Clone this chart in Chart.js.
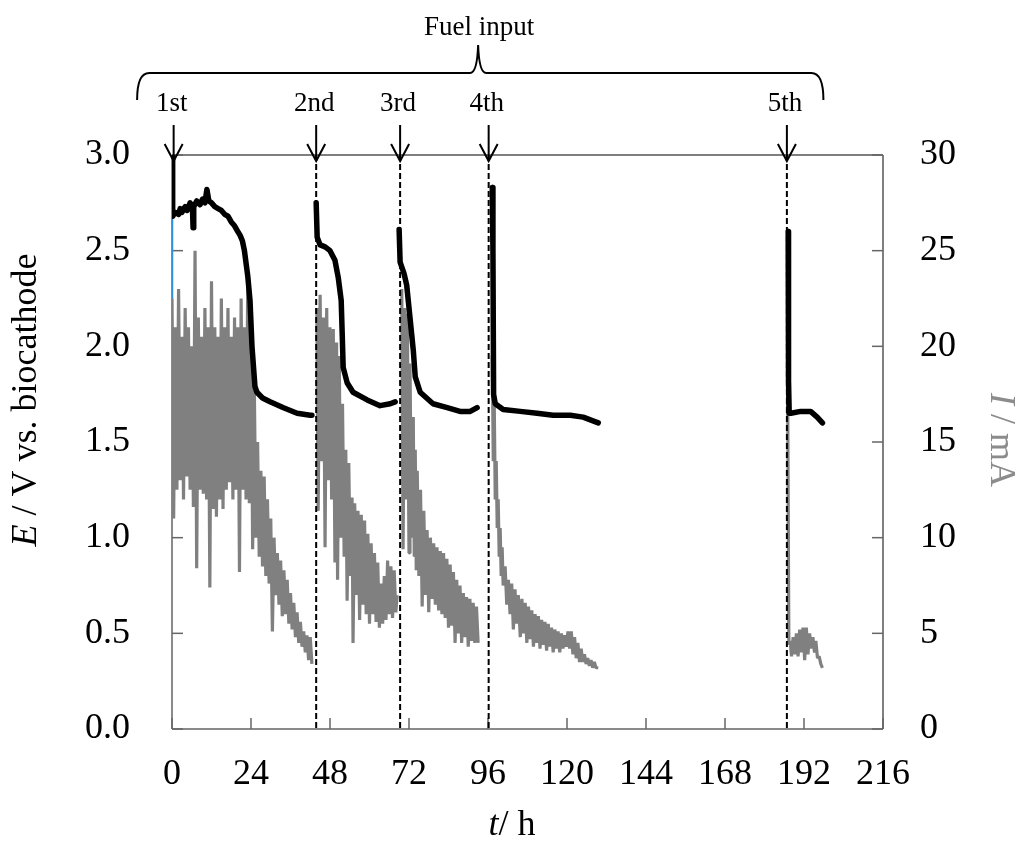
<!DOCTYPE html>
<html>
<head>
<meta charset="utf-8">
<script src="https://cdn.jsdelivr.net/npm/chart.js@4.4.1/dist/chart.umd.min.js"></script>
<style>
  html, body { margin: 0; padding: 0; background: #fff; }
  #wrap { width: 1023px; height: 860px; }
</style>
</head>
<body>
<div id="wrap"><canvas id="chart" width="1023" height="860"></canvas></div>
<script>
// fuel inputs (h) and their labels
const fuelTimes = [0.5, 43.8, 69.3, 96.2, 186.8];
const fuelLabels = ['1st', '2nd', '3rd', '4th', '5th'];

// cell voltage E (V), one array per run: [t (h), E]
const potential1 = [[0,3.0],[0.2,2.68],[1,2.70],[2,2.69],[2.5,2.72],[3,2.70],[4,2.73],[4.6,2.71],[5.5,2.75],[6.2,2.73],[6.4,2.62],[6.6,2.73],[7.5,2.76],[8.5,2.74],[9.3,2.77],[10,2.75],[10.6,2.82],[11.2,2.76],[12,2.75],[13,2.73],[14,2.72],[15,2.71],[16,2.69],[17,2.68],[18,2.65],[19,2.63],[20,2.60],[20.7,2.58],[21.4,2.55],[22,2.50],[23,2.37],[23.7,2.24],[24.3,2.0],[25.2,1.79],[25.8,1.76],[27.5,1.73],[29.8,1.71],[33.7,1.68],[38,1.65],[42,1.64],[42.5,1.64]];
const potential2 = [[43.8,2.75],[44.1,2.57],[45,2.53],[46.5,2.52],[48,2.50],[49.5,2.45],[50.5,2.36],[51.4,2.24],[51.7,2.07],[52,1.89],[53.2,1.81],[55,1.76],[59.3,1.72],[63.2,1.69],[66.3,1.70],[67.8,1.71]];
const potential3 = [[69.0,2.61],[69.3,2.44],[70.5,2.38],[71.3,2.32],[72.3,2.15],[73.3,1.98],[73.9,1.84],[75.4,1.76],[79.3,1.70],[83.6,1.68],[87.5,1.66],[90.6,1.66],[92.7,1.68]];
const potential4 = [[97.3,2.83],[97.5,2.50],[97.7,1.75],[98.2,1.70],[100.6,1.67],[105.8,1.66],[110.9,1.65],[115.8,1.64],[121,1.64],[124.9,1.63],[129.5,1.60]];
const potential5 = [[187.2,2.60],[187.3,1.82],[187.5,1.65],[188,1.65],[191,1.66],[194,1.66],[196,1.63],[197.6,1.60]];

// current I (mA), traced as the oscillating signal: [t (h), I]
const current1 = [[0,22.5],[0.5,11],[1,21],[1.5,12.5],[2,23],[2.5,13],[3,20.5],[3.5,12],[4,22],[4.5,13.2],[5,21],[5.5,12.5],[6,20],[6.5,11.6],[7,25],[7.5,8.4],[8,21.5],[8.5,12.5],[9,20.5],[9.5,12.3],[10,22],[10.5,12],[11,21],[11.5,7.4],[12,23.4],[12.5,11.5],[13,21],[13.5,11.1],[14,20.5],[14.5,12],[15,22.5],[15.5,11.5],[16,21],[16.5,12.5],[17,22],[17.5,12.9],[18,20.5],[18.5,12],[19,21.5],[19.5,12.5],[20,21],[20.5,8.2],[21,22.5],[21.5,12.5],[22,21],[22.5,12],[23,23.1],[23.5,11.8],[24,21.5],[24.5,9.4],[25,18],[25.5,10],[26,15],[26.5,9],[27,13.5],[27.5,8.5],[28,13.2],[28.5,8],[29,12],[29.5,7.6],[30,11],[30.5,5.1],[31,10],[31.5,7],[32,9.2],[32.5,6.5],[33,8.8],[33.5,5.9],[34,8.3],[34.5,6],[35,7.8],[35.5,5.5],[36,7.1],[36.5,5.2],[37,6.6],[37.5,4.8],[38,6.1],[38.5,4.5],[39,5.6],[39.5,4.3],[40,5.1],[40.5,4],[41,4.9],[41.5,3.6],[42,4.8],[42.5,3.4]];
const current2 = [[44,22],[44.4,11.4],[45,22.7],[45.5,14],[46,21.5],[46.5,9.5],[47,22],[47.5,13],[48,21],[48.5,12],[49,20.9],[49.5,8.7],[50,20.2],[50.3,7.8],[50.8,19.5],[51.3,10],[51.8,17],[52.3,9],[52.8,14.6],[53.2,6.7],[53.7,13.9],[54.2,8],[54.7,12.1],[55,4.5],[55.5,11.8],[56,7],[56.5,11.4],[57,5.7],[57.5,11.2],[58,6.5],[58.5,10.9],[59,6],[59.5,10.2],[60,5.5],[60.5,9.7],[61,6],[61.5,9.2],[62,5.6],[62.5,8.7],[63,5.3],[63.5,7.6],[64,5.5],[64.5,8],[65,5.7],[65.5,8.8],[66,6],[66.5,8.5],[67,5.8],[67.5,8.3],[68,6.1],[68.4,7]];
const current3 = [[69.8,23],[70.2,9.4],[70.7,22],[71.1,12],[71.5,21.7],[72,9.2],[72.3,19.1],[72.8,10],[73.3,16.3],[73.6,9],[73.9,14.6],[74.2,8.3],[74.5,13.5],[75,8],[75.5,12.5],[76,6.4],[76.5,11.4],[77,7],[77.5,10.4],[78,6.1],[78.5,10],[79,6.8],[79.5,9.7],[80,6.5],[80.5,9.5],[81,6.2],[81.5,9.3],[82,6],[82.5,9.2],[83,5.8],[83.5,8.9],[84,5.3],[84.5,8.6],[85,5.4],[85.5,8.2],[86,4.5],[86.5,7.8],[87,5],[87.5,7.5],[88,4.5],[88.5,7.1],[89,4.8],[89.5,6.9],[90,4.3],[90.5,6.8],[91,4.6],[91.5,6.6],[92,4.5],[92.5,6.4],[93,4.5]];
const current4 = [[97.3,19.5],[97.6,14],[97.9,17],[98.2,12],[98.5,14],[98.8,10.5],[99.1,12],[99.4,9],[99.7,10.5],[100,8],[100.3,9.5],[100.6,7.5],[101.2,8.5],[101.7,6.5],[102.2,7.8],[102.7,6],[103.2,7.6],[103.7,5.2],[104.2,7.3],[104.7,5.5],[105.2,7],[105.8,4.8],[106.3,6.8],[106.8,5],[107.3,6.6],[107.8,4.5],[108.3,6.4],[108.8,4.7],[109.3,6.2],[109.8,4.3],[110.3,6],[110.8,4.5],[111.3,5.9],[111.8,4.2],[112.3,5.7],[112.8,4.4],[113.3,5.6],[113.8,4.1],[114.3,5.5],[114.8,4.3],[115.3,5.3],[115.8,4],[116.3,5.2],[116.8,4.2],[117.3,5.1],[117.8,4],[118.3,5],[118.8,4.2],[119.3,4.9],[119.8,4.3],[120.3,5.1],[120.8,4.2],[121.3,5.1],[121.8,3.9],[122.3,4.8],[122.8,3.7],[123.3,4.5],[123.8,3.5],[124.3,4.2],[124.8,3.5],[125.3,3.9],[125.8,3.4],[126.3,3.7],[126.8,3.3],[127.3,3.6],[127.8,3.2],[128.3,3.5],[128.8,3.2],[129.5,3.2]];
const current5 = [[187,19],[187.4,4.4],[187.8,4.6],[188.2,3.8],[188.7,4.8],[189.2,3.9],[189.7,5],[190.2,3.8],[190.7,5.2],[191.2,4],[191.7,5.3],[192.2,3.6],[192.7,5.3],[193.2,3.9],[193.7,5],[194.2,4.2],[194.7,4.8],[195.2,4],[195.6,4.6],[196.1,3.7],[196.6,3.8],[197.1,3.4],[197.6,3.2]];
// short blue trace at the very start (mA)
const currentStart = [[0,22.5],[0,26.7]];

const FONT = '"Liberation Serif", "Times New Roman", serif';

function line(ctx, x1, y1, x2, y2) {
    ctx.beginPath(); ctx.moveTo(x1, y1); ctx.lineTo(x2, y2); ctx.stroke();
}

// draws text made of plain and italic pieces, centred on (cx, cy), rotated by angle
function mixedText(ctx, parts, cx, cy, angle, size, color) {
    ctx.save();
    ctx.translate(cx, cy);
    ctx.rotate(angle);
    ctx.fillStyle = color;
    ctx.textBaseline = 'middle';
    ctx.textAlign = 'left';
    let total = 0;
    parts.forEach(p => { ctx.font = (p.italic ? 'italic ' : '') + size + 'px ' + FONT; total += ctx.measureText(p.text).width; });
    let pos = -total / 2;
    parts.forEach(p => {
        ctx.font = (p.italic ? 'italic ' : '') + size + 'px ' + FONT;
        ctx.fillText(p.text, pos, 0);
        pos += ctx.measureText(p.text).width;
    });
    ctx.restore();
}

const decorations = {
    id: 'decorations',
    beforeDatasetsDraw(chart) {
        const { ctx, chartArea: a, scales } = chart;
        const x = scales.x, y = scales.y, y2 = scales.y2;
        ctx.save();
        // frame
        ctx.strokeStyle = '#8a8a8a';
        ctx.lineWidth = 2;
        line(ctx, a.left, a.top, a.left, a.bottom);
        line(ctx, a.left, a.bottom, a.right, a.bottom);
        ctx.strokeStyle = '#555';
        ctx.lineWidth = 1.5;
        line(ctx, a.left, a.top, a.right, a.top);
        line(ctx, a.right, a.top, a.right, a.bottom);

        // inward tick marks
        ctx.strokeStyle = '#666';
        ctx.lineWidth = 1.5;
        x.ticks.forEach(tk => {
            const px = x.getPixelForValue(tk.value);
            line(ctx, px, a.bottom, px, a.bottom - 11);
        });
        y.ticks.forEach(tk => {
            const py = y.getPixelForValue(tk.value);
            line(ctx, a.left, py, a.left + 11, py);
        });
        y2.ticks.forEach(tk => {
            const py = y2.getPixelForValue(tk.value);
            line(ctx, a.right, py, a.right - 11, py);
        });
        ctx.restore();
    },
    afterDatasetsDraw(chart) {
        const { ctx, chartArea: a, scales } = chart;
        const x = scales.x;
        ctx.save();

        // dashed lines at each refuelling
        ctx.strokeStyle = '#000';
        ctx.lineWidth = 2;
        ctx.setLineDash([6, 3]);
        fuelTimes.slice(1).forEach(t => {
            const px = x.getPixelForValue(t);
            line(ctx, px, a.top, px, a.bottom);
        });
        ctx.setLineDash([]);

        // arrows + labels
        ctx.strokeStyle = '#000';
        ctx.lineWidth = 2;
        ctx.fillStyle = '#000';
        ctx.font = '27px ' + FONT;
        ctx.textAlign = 'center';
        ctx.textBaseline = 'middle';
        fuelTimes.forEach((t, i) => {
            const px = x.getPixelForValue(t);
            const tip = a.top + 6;
            line(ctx, px, a.top - 30, px, tip);
            ctx.beginPath();
            ctx.moveTo(px - 9, tip - 17);
            ctx.lineTo(px, tip);
            ctx.lineTo(px + 9, tip - 17);
            ctx.stroke();
            ctx.fillText(fuelLabels[i], px - 2, a.top - 51);
        });

        // curly brace over all inputs
        const bl = x.getPixelForValue(-10.6), br = x.getPixelForValue(197.9), bc = x.getPixelForValue(93);
        const by = a.top - 82, bEnd = a.top - 55, bTip = a.top - 110;
        ctx.lineWidth = 2;
        ctx.beginPath();
        ctx.moveTo(bl, bEnd);
        ctx.quadraticCurveTo(bl, by, bl + 12, by);
        ctx.lineTo(bc - 8, by);
        ctx.quadraticCurveTo(bc - 1, by, bc, bTip);
        ctx.quadraticCurveTo(bc + 1, by, bc + 8, by);
        ctx.lineTo(br - 12, by);
        ctx.quadraticCurveTo(br, by, br, bEnd);
        ctx.stroke();
        ctx.font = '27px ' + FONT;
        ctx.fillText('Fuel input', bc + 1, a.top - 127);

        // axis titles
        mixedText(ctx, [{ text: 'E', italic: true }, { text: ' / V vs. biocathode' }], 27, 400, -Math.PI / 2, 36, '#000');
        mixedText(ctx, [{ text: 'I', italic: true }, { text: ' / mA' }], 1000, 440, Math.PI / 2, 36, '#8c8c8c');
        mixedText(ctx, [{ text: 't', italic: true }, { text: '/ h' }], 512, 826, 0, 36, '#000');

        ctx.restore();
    }
};

function potentialSet(data) {
    return { data, yAxisID: 'y', borderColor: '#000', borderWidth: 5.5, borderJoinStyle: 'round', borderCapStyle: 'round', pointRadius: 0, tension: 0, fill: false };
}
function currentSet(data) {
    return { data, yAxisID: 'y2', borderColor: '#808080', borderWidth: 3.2, borderJoinStyle: 'bevel', pointRadius: 0, tension: 0, fill: false };
}

new Chart(document.getElementById('chart'), {
    type: 'line',
    data: {
        datasets: [
            potentialSet(potential1), potentialSet(potential2), potentialSet(potential3), potentialSet(potential4), potentialSet(potential5),
            { data: currentStart, yAxisID: 'y2', borderColor: '#2f8fe0', borderWidth: 2.5, pointRadius: 0 },
            currentSet(current1), currentSet(current2), currentSet(current3), currentSet(current4), currentSet(current5)
        ]
    },
    options: {
        responsive: false,
        animation: false,
        layout: { padding: { top: 155, left: 0, right: 0, bottom: 0 } },
        plugins: { legend: { display: false }, tooltip: { enabled: false } },
        scales: {
            x: {
                type: 'linear', min: 0, max: 216,
                grid: { display: false, drawTicks: false },
                border: { display: false },
                ticks: { stepSize: 24, color: '#000', padding: 24, font: { family: FONT, size: 36 } },
                afterFit: s => { s.height = 131; }
            },
            y: {
                position: 'left', min: 0, max: 3,
                grid: { display: false, drawTicks: false },
                border: { display: false },
                ticks: { stepSize: 0.5, color: '#000', padding: 42, font: { family: FONT, size: 36 }, callback: v => v.toFixed(1) },
                afterFit: s => { s.width = 172; }
            },
            y2: {
                position: 'right', min: 0, max: 30,
                grid: { display: false, drawTicks: false },
                border: { display: false },
                ticks: { stepSize: 5, color: '#000', padding: 37, font: { family: FONT, size: 36 } },
                afterFit: s => { s.width = 140; }
            }
        }
    },
    plugins: [decorations]
});
</script>
</body>
</html>
